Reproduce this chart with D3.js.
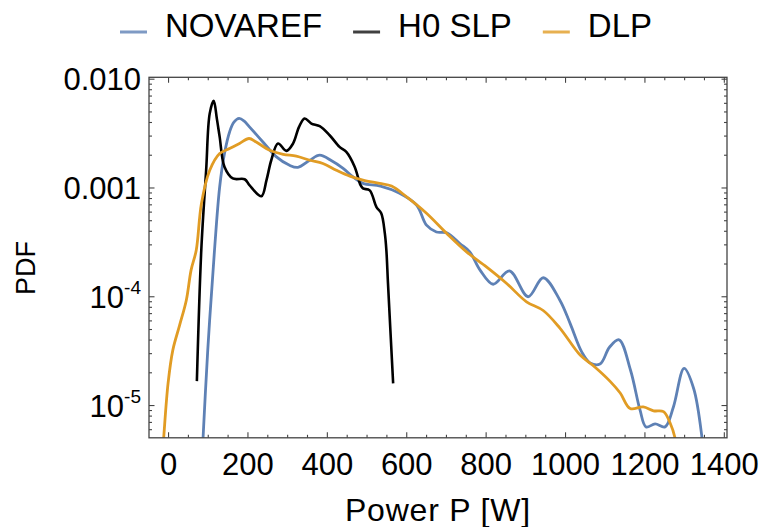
<!DOCTYPE html>
<html>
<head>
<meta charset="utf-8">
<script src="https://cdn.jsdelivr.net/npm/d3@7"></script>
<style>
  html, body { margin: 0; padding: 0; background: #fff; }
  svg { display: block; font-family: "Liberation Sans", Arial, Helvetica, sans-serif; }
</style>
</head>
<body>
<svg id="chart" width="767" height="527"></svg>
<script>
// Power samples [W] and probability densities for each profile
const novarefPower = [86, 100, 117, 130, 142, 155, 166, 179, 192, 205, 239, 273, 306, 327, 357, 382, 412, 441, 466, 491, 535, 582, 626, 651, 676, 702, 735, 760, 786, 819, 860, 907, 945, 987, 1013, 1042, 1063, 1088, 1112, 1136, 1165, 1189, 1204, 1227, 1252, 1273, 1300, 1324, 1345, 1352];
const novarefPdf = [3.5e-6, 3.2e-5, 2.65e-4, 1.01e-3, 2.04e-3, 3.24e-3, 3.98e-3, 4.31e-3, 4.07e-3, 3.61e-3, 2.62e-3, 1.91e-3, 1.60e-3, 1.53e-3, 1.78e-3, 1.98e-3, 1.76e-3, 1.50e-3, 1.25e-3, 1.09e-3, 1.03e-3, 8.9e-4, 6.9e-4, 4.5e-4, 3.9e-4, 3.83e-4, 3.05e-4, 2.56e-4, 1.74e-4, 1.29e-4, 1.71e-4, 9.9e-5, 1.48e-4, 9.2e-5, 5.6e-5, 3.08e-5, 2.44e-5, 2.38e-5, 3.4e-5, 3.98e-5, 2.09e-5, 8.97e-6, 6.3e-6, 6.7e-6, 6.3e-6, 9.6e-6, 2.17e-5, 1.42e-5, 5.0e-6, 2.5e-6];

const slpPower = [72.6, 83.7, 96, 105, 115, 123, 130, 142, 163, 193, 205, 235, 248, 260, 277, 298, 315, 330, 344, 361, 382, 407, 432, 449, 470, 485, 491, 508, 525, 537, 546, 550, 554, 567];
const slpPdf = [1.66e-5, 2.65e-4, 1.45e-3, 4.8e-3, 6.25e-3, 4.27e-3, 2.92e-3, 1.55e-3, 1.21e-3, 1.19e-3, 1.05e-3, 8.3e-4, 1.17e-3, 1.78e-3, 2.54e-3, 2.17e-3, 2.54e-3, 3.61e-3, 4.31e-3, 3.87e-3, 3.66e-3, 3.02e-3, 2.36e-3, 2.12e-3, 1.55e-3, 1.05e-3, 9.8e-4, 9.4e-4, 6.6e-4, 5.8e-4, 3.8e-4, 2.63e-4, 1.32e-4, 1.58e-5];

const dlpPower = [-15, -11, 0, 12, 29, 46, 58, 71, 84, 105, 130, 155, 180, 204, 222, 256, 290, 323, 357, 390, 424, 458, 491, 533, 563, 601, 651, 702, 752, 802, 853, 903, 945, 987, 1038, 1075, 1113, 1139, 1164, 1197, 1223, 1248, 1265, 1277, 1285];
const dlpPdf = [3.2e-6, 5.0e-6, 1.58e-5, 3.2e-5, 5.4e-5, 9.2e-5, 1.74e-4, 2.65e-4, 7.1e-4, 1.44e-3, 2.05e-3, 2.28e-3, 2.54e-3, 2.82e-3, 2.62e-3, 2.20e-3, 2.02e-3, 1.94e-3, 1.78e-3, 1.66e-3, 1.44e-3, 1.27e-3, 1.17e-3, 1.09e-3, 1.03e-3, 8.2e-4, 5.8e-4, 3.78e-4, 2.56e-4, 1.86e-4, 1.31e-4, 8.9e-5, 7.4e-5, 5.1e-5, 2.88e-5, 2.24e-5, 1.66e-5, 1.29e-5, 9.3e-6, 9.6e-6, 8.85e-6, 8.7e-6, 6.8e-6, 5.0e-6, 3.2e-6];

const seriesNames = ["NOVAREF", "H0 SLP", "DLP"];
const seriesColors = ["#5E81B5", "#000000", "#E19C24"];

// Axis ticks
const xMajorTicks = [0, 200, 400, 600, 800, 1000, 1200, 1400];
const xMinorTicks = d3.range(0, 1401, 50).filter(v => v % 200 !== 0);
const yMajorTicks = [1e-5, 1e-4, 1e-3, 1e-2];
const yTickLabels = [["10", "-5"], ["10", "-4"], ["0.001", ""], ["0.010", ""]];
const yMinorTicks = [];
[1e-6, 1e-5, 1e-4, 1e-3].forEach(dec => {
  for (let m = 2; m <= 9; m++) yMinorTicks.push(m * dec);
});

const xLabel = "Power P [W]";
const yLabel = "PDF";

// Layout
const plot = { left: 149, right: 727, top: 77.3, bottom: 437.8 };
const svg = d3.select("#chart");

const x = d3.scaleLinear().domain([-48, 1408]).range([plot.left, plot.right]);
const y = d3.scaleLog().domain([5e-6, 0.0103]).range([plot.bottom, plot.top]);

const frameColor = "#444";
const yMinorIn = yMinorTicks.filter(v => v >= 5e-6 && v <= 0.0103);

svg.append("defs").append("clipPath").attr("id", "plotClip")
  .append("rect")
  .attr("x", plot.left).attr("y", plot.top)
  .attr("width", plot.right - plot.left).attr("height", plot.bottom - plot.top);

// Curves
const series = [
  { power: novarefPower, pdf: novarefPdf, width: 2.8 },
  { power: slpPower, pdf: slpPdf, width: 2.6 },
  { power: dlpPower, pdf: dlpPdf, width: 2.8 }
];
const line = d3.line()
  .x(d => x(d[0]))
  .y(d => y(d[1]))
  .curve(d3.curveCatmullRom.alpha(0.5));

const curves = svg.append("g").attr("clip-path", "url(#plotClip)");
series.forEach((s, i) => {
  curves.append("path")
    .datum(s.power.map((p, k) => [p, s.pdf[k]]))
    .attr("d", line)
    .attr("fill", "none")
    .attr("stroke", seriesColors[i])
    .attr("stroke-width", s.width)
    .attr("stroke-linejoin", "round")
    .attr("stroke-linecap", "butt");
});

// Frame axes with inward ticks
function styleAxis(g) {
  g.select(".domain").remove();
  g.selectAll(".tick line").attr("stroke", frameColor).attr("stroke-width", 1.1);
}

// bottom
svg.append("g").attr("transform", `translate(0,${plot.bottom})`)
  .call(d3.axisBottom(x).tickValues(xMinorTicks).tickSize(-3).tickFormat(""))
  .call(styleAxis);
const xAxisG = svg.append("g").attr("transform", `translate(0,${plot.bottom})`)
  .call(d3.axisBottom(x).tickValues(xMajorTicks).tickSize(-5.5).tickPadding(15).tickFormat(d3.format("d")))
  .call(styleAxis);
xAxisG.selectAll(".tick text")
  .attr("fill", "#000").attr("font-size", 31)
  .attr("font-family", '"Liberation Sans", Arial, sans-serif');

// top
svg.append("g").attr("transform", `translate(0,${plot.top})`)
  .call(d3.axisTop(x).tickValues(xMinorTicks).tickSize(-3).tickFormat(""))
  .call(styleAxis);
svg.append("g").attr("transform", `translate(0,${plot.top})`)
  .call(d3.axisTop(x).tickValues(xMajorTicks).tickSize(-5.5).tickFormat(""))
  .call(styleAxis);

// left
svg.append("g").attr("transform", `translate(${plot.left},0)`)
  .call(d3.axisLeft(y).tickValues(yMinorIn).tickSize(-3).tickFormat(""))
  .call(styleAxis);
const yAxisG = svg.append("g").attr("transform", `translate(${plot.left},0)`)
  .call(d3.axisLeft(y).tickValues(yMajorTicks).tickSize(-5.5).tickPadding(8).tickFormat(""))
  .call(styleAxis);
yAxisG.selectAll(".tick text").each(function(d) {
  const t = d3.select(this)
    .attr("fill", "#000").attr("font-size", 31)
    .attr("font-family", '"Liberation Sans", Arial, sans-serif')
    .attr("x", -8).attr("dy", "0.36em");
  t.text(null);
  const lab = yTickLabels[yMajorTicks.indexOf(d)];
  t.append("tspan").text(lab[0]);
  if (lab[1]) {
    t.append("tspan").attr("font-size", 19).attr("dy", "-0.72em").text(lab[1]);
  }
});

// right
svg.append("g").attr("transform", `translate(${plot.right},0)`)
  .call(d3.axisRight(y).tickValues(yMinorIn).tickSize(-3).tickFormat(""))
  .call(styleAxis);
svg.append("g").attr("transform", `translate(${plot.right},0)`)
  .call(d3.axisRight(y).tickValues(yMajorTicks).tickSize(-5.5).tickFormat(""))
  .call(styleAxis);

// frame outline
svg.append("rect")
  .attr("x", plot.left).attr("y", plot.top)
  .attr("width", plot.right - plot.left).attr("height", plot.bottom - plot.top)
  .attr("fill", "none").attr("stroke", frameColor).attr("stroke-width", 1.3);

// Axis titles
svg.append("text")
  .attr("x", (plot.left + plot.right) / 2).attr("y", 521)
  .attr("text-anchor", "middle")
  .attr("font-size", 32).attr("letter-spacing", 0.8)
  .attr("fill", "#000")
  .text(xLabel);

svg.append("text")
  .attr("transform", "translate(35,268) rotate(-90)")
  .attr("text-anchor", "middle")
  .attr("font-size", 27)
  .attr("fill", "#000")
  .text(yLabel);

// Legend
const legend = svg.append("g");
const swatchLen = 27, swatchGap = 18, itemGap = 31;
let cursor = 0;
seriesNames.forEach((name, i) => {
  const g = legend.append("g");
  g.append("line")
    .attr("x1", cursor).attr("x2", cursor + swatchLen)
    .attr("y1", 32).attr("y2", 32)
    .attr("stroke", seriesColors[i]).attr("stroke-width", 3)
    .attr("stroke-opacity", i === 1 ? 0.75 : 0.8);
  const t = g.append("text")
    .attr("x", cursor + swatchLen + swatchGap).attr("y", 37)
    .attr("font-size", 33).attr("fill", "#000")
    .text(name);
  const w = t.node().getComputedTextLength();
  cursor += swatchLen + swatchGap + w + itemGap;
});
const legendWidth = cursor - itemGap;
legend.attr("transform", `translate(${386 - legendWidth / 2},0)`);
</script>
</body>
</html>
